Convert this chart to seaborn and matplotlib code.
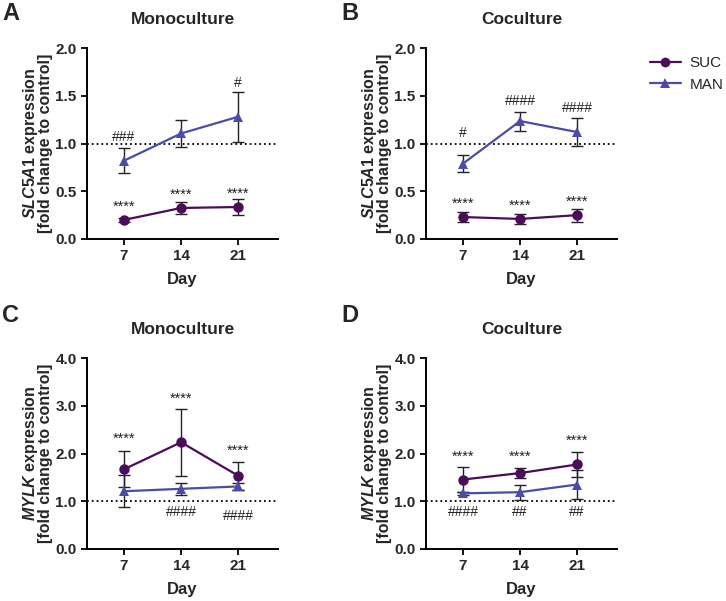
import matplotlib
matplotlib.use("Agg")
import matplotlib.pyplot as plt
import seaborn as sns
import pandas as pd
import numpy as np
from matplotlib.ticker import FormatStrFormatter
from matplotlib.lines import Line2D

sns.set_style("ticks")
plt.rcParams['font.family'] = ['Liberation Sans', 'DejaVu Sans']
plt.rcParams['mathtext.fontset'] = 'custom'
plt.rcParams['mathtext.it'] = 'Liberation Sans:italic:bold'
plt.rcParams['mathtext.rm'] = 'Liberation Sans:bold'
plt.rcParams['mathtext.bf'] = 'Liberation Sans:bold'

days = [7, 14, 21]
groups = ["SUC", "MAN"]

# Panel A: SLC5A1, Monoculture
a_suc_mean = [0.20, 0.325, 0.335]
a_suc_sd = [0.02, 0.065, 0.085]
a_man_mean = [0.82, 1.105, 1.28]
a_man_sd = [0.13, 0.145, 0.26]
# Panel B: SLC5A1, Coculture
b_suc_mean = [0.23, 0.21, 0.25]
b_suc_sd = [0.055, 0.048, 0.068]
b_man_mean = [0.79, 1.235, 1.12]
b_man_sd = [0.09, 0.10, 0.145]
# Panel C: MYLK, Monoculture
c_suc_mean = [1.67, 2.235, 1.535]
c_suc_sd = [0.38, 0.70, 0.29]
c_man_mean = [1.21, 1.26, 1.31]
c_man_sd = [0.33, 0.13, 0.07]
# Panel D: MYLK, Coculture
d_suc_mean = [1.455, 1.59, 1.77]
d_suc_sd = [0.26, 0.10, 0.26]
d_man_mean = [1.165, 1.19, 1.35]
d_man_sd = [0.03, 0.16, 0.30]

# significance labels
a_suc_sig = ["****", "****", "****"]
a_man_sig = ["###", "", "#"]
b_suc_sig = ["****", "****", "****"]
b_man_sig = ["#", "####", "####"]
c_suc_sig = ["****", "****", "****"]
c_man_sig = ["", "####", "####"]
d_suc_sig = ["****", "****", "****"]
d_man_sig = ["####", "##", "##"]

colors = {"SUC": "#4B0C59", "MAN": "#4A4DA8"}
markers = {"SUC": "o", "MAN": "^"}

W, H = 726, 601
fig = plt.figure(figsize=(W / 100, H / 100), dpi=100)

def axpos(left, top, w=191, h=191):
    return [left / W, (H - top - h) / H, w / W, h / H]

panels = [
    dict(pos=axpos(87, 48), letter="A", lx=2, ly=2, title="Monoculture", gene="SLC5A1", ymax=2.0, step=0.5,
         suc=(a_suc_mean, a_suc_sd), man=(a_man_mean, a_man_sd),
         ssig=a_suc_sig, msig=a_man_sig,
         sy=[0.34, 0.46, 0.47], my=[1.07, 0, 1.63]),
    dict(pos=axpos(426, 48), letter="B", lx=341, ly=2, title="Coculture", gene="SLC5A1", ymax=2.0, step=0.5,
         suc=(b_suc_mean, b_suc_sd), man=(b_man_mean, b_man_sd),
         ssig=b_suc_sig, msig=b_man_sig,
         sy=[0.365, 0.35, 0.385], my=[1.11, 1.45, 1.375]),
    dict(pos=axpos(87, 358), letter="C", lx=2, ly=304, title="Monoculture", gene="MYLK", ymax=4.0, step=1.0,
         suc=(c_suc_mean, c_suc_sd), man=(c_man_mean, c_man_sd),
         ssig=c_suc_sig, msig=c_man_sig,
         sy=[2.30, 3.15, 2.05], my=[0, 0.78, 0.69]),
    dict(pos=axpos(426, 358), letter="D", lx=341, ly=304, title="Coculture", gene="MYLK", ymax=4.0, step=1.0,
         suc=(d_suc_mean, d_suc_sd), man=(d_man_mean, d_man_sd),
         ssig=d_suc_sig, msig=d_man_sig,
         sy=[1.93, 1.93, 2.26], my=[0.77, 0.77, 0.77]),
]

for p in panels:
    ax = fig.add_axes(p["pos"])
    df = pd.DataFrame({
        "Day": days * 2,
        "value": list(p["suc"][0]) + list(p["man"][0]),
        "sd": list(p["suc"][1]) + list(p["man"][1]),
        "group": ["SUC"] * 3 + ["MAN"] * 3,
    })
    ax.axhline(1.0, ls=":", color="black", lw=1.3, zorder=1)
    for g in groups:
        sub = df[df.group == g]
        ax.errorbar(sub["Day"], sub["value"], yerr=sub["sd"], fmt="none",
                    ecolor="#222222", elinewidth=1.0, capsize=4, capthick=1.0, zorder=2)
    sns.lineplot(data=df, x="Day", y="value", hue="group", style="group",
                 palette=colors, markers=markers, dashes=False, lw=1.6,
                 markersize=7.5, markeredgewidth=0, ax=ax, legend=False, zorder=3)
    for i, d in enumerate(days):
        ax.text(d, p["sy"][i], p["ssig"][i], ha="center", va="center", fontsize=10.5, color="#222222")
        if p["msig"][i]:
            ax.text(d, p["my"][i], p["msig"][i], ha="center", va="center", fontsize=10, color="#222222")

    ax.set_xlim(2.45, 25.9)
    ax.set_ylim(0, p["ymax"])
    ax.set_xticks(days)
    ax.set_yticks(np.arange(0, p["ymax"] + 1e-9, p["step"]))
    ax.yaxis.set_major_formatter(FormatStrFormatter("%.1f"))
    for lab in ax.get_xticklabels() + ax.get_yticklabels():
        lab.set_fontweight("bold")
    ax.tick_params(axis="both", labelsize=11, width=1.3, length=4.5, pad=3, color="black")
    for s in ["left", "bottom"]:
        ax.spines[s].set_linewidth(1.4)
        ax.spines[s].set_color("black")
    sns.despine(ax=ax)
    ax.set_xlabel("Day", fontsize=12, fontweight="bold", labelpad=6)
    ax.set_ylabel("$\\mathit{" + p["gene"] + "}$ expression\n[fold change to control]",
                  fontsize=11.5, fontweight="bold", labelpad=2, linespacing=0.8)
    ax.set_title(p["title"], fontsize=12.5, fontweight="bold", pad=17)
    fig.text(p["lx"] / W, 1 - p["ly"] / H, p["letter"], fontsize=17, fontweight="bold",
             ha="left", va="top")

handles = [Line2D([0], [0], color=colors[g], marker=markers[g], lw=1.6, markersize=7,
                  markeredgewidth=0) for g in groups]
fig.legend(handles, groups, loc="upper left", bbox_to_anchor=(650 / W, 1 - 56 / H),
           frameon=False, fontsize=11, handlelength=2.0, handletextpad=0.6, labelspacing=0.5,
           borderpad=0, borderaxespad=0)

fig.savefig("out.png", dpi=100)
